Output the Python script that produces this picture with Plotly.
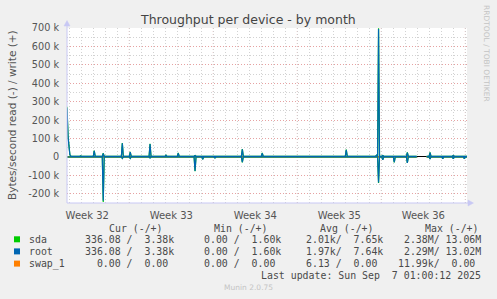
import plotly.graph_objects as go

# ---------------- data (days since start, values in kB/s) ----------------
title_text = "Throughput per device - by month"
y_title = "Bytes/second read (-) / write (+)"

week_labels = ["Week 32", "Week 33", "Week 34", "Week 35", "Week 36"]
week_label_days = [1.5, 8.5, 15.5, 22.5, 29.5]
week_bound_days = [5, 12, 19, 26, 33]

y_tick_vals = [-200000, -100000, 0, 100000, 200000, 300000, 400000, 500000, 600000, 700000]
y_tick_text = ["-200 k", "-100 k", "0", "100 k", "200 k", "300 k", "400 k", "500 k", "600 k", "700 k"]

write_days = [-0.19, -0.10, 0.05, 0.15, 0.87, 0.95, 1.03, 2.00, 2.08, 2.16,
              2.75, 2.83, 2.91, 3.47, 3.55, 3.63, 4.34, 4.42, 4.50, 5.00, 5.08, 5.16,
              6.65, 6.73, 6.81, 7.98, 8.06, 8.14, 8.59, 8.67, 8.75, 9.00, 9.08, 9.16,
              10.40, 10.48, 10.56, 11.04, 11.12, 11.20, 12.06, 12.14, 12.22,
              14.00, 14.08, 14.16, 14.34, 14.42, 14.50, 16.00, 16.08, 16.16,
              16.98, 17.06, 17.14, 20.04, 20.12, 20.20, 23.00, 23.08, 23.16,
              25.52, 25.60, 25.69, 25.77, 25.85, 26.04, 26.12, 26.20, 28.09, 28.17, 28.25,
              28.95, 29.00, 29.78, 29.98, 30.06, 30.14, 31.92, 32.00, 32.08, 33.14]
sda_write_k = [272, 110, 12, 3.4, 3.4, 6, 3.4, 3.4, 34, 3.4,
               3.4, 20, 3.4, 3.4, 6, 3.4, 3.4, 76, 3.4, 3.4, 27, 3.4,
               3.4, 72, 3.4, 3.4, 10, 3.4, 3.4, 6, 3.4, 3.4, 22, 3.4,
               3.4, 8, 3.4, 3.4, 6, 3.4, 3.4, 6, 3.4,
               3.4, 6, 3.4, 3.4, 43, 3.4, 3.4, 22, 3.4,
               3.4, 6, 3.4, 3.4, 6, 3.4, 3.4, 40, 3.4,
               3.4, 10, 3.4, 698, 3.4, 3.4, 8, 3.4, 3.4, 25, 3.4,
               3.4, None, 3.4, 3.4, 25, 3.4, 3.4, 8, 3.4, 3.4]
root_write_k = [266, 106, 12, 3.4, 3.4, 6, 3.4, 3.4, 33, 3.4,
                3.4, 19, 3.4, 3.4, 6, 3.4, 3.4, 74, 3.4, 3.4, 26, 3.4,
                3.4, 70, 3.4, 3.4, 10, 3.4, 3.4, 6, 3.4, 3.4, 21, 3.4,
                3.4, 8, 3.4, 3.4, 6, 3.4, 3.4, 6, 3.4,
                3.4, 6, 3.4, 3.4, 42, 3.4, 3.4, 21, 3.4,
                3.4, 6, 3.4, 3.4, 6, 3.4, 3.4, 39, 3.4,
                3.4, 10, 3.4, 695, 3.4, 3.4, 8, 3.4, 3.4, 24, 3.4,
                3.4, None, 3.4, 3.4, 24, 3.4, 3.4, 8, 3.4, 3.4]

read_days = [-0.19, 2.75, 2.83, 2.91, 4.34, 4.42, 4.50, 5.00, 5.08, 5.16,
             6.65, 6.73, 6.81, 10.40, 10.48, 10.56, 11.04, 11.12, 11.20,
             12.06, 12.14, 12.22, 14.34, 14.42, 14.50, 25.69, 25.77, 25.85,
             26.04, 26.12, 26.20, 27.00, 27.08, 27.16, 28.09, 28.17, 28.25,
             28.95, 29.00, 29.78, 29.98, 30.06, 30.14, 31.04, 31.12, 31.20,
             31.92, 32.00, 32.08, 32.84, 32.92, 33.00, 33.14]
sda_read_k = [0.34, 0.34, 245, 0.34, 0.34, 8, 0.34, 0.34, 8, 0.34,
              0.34, 5, 0.34, 0.34, 78, 0.34, 0.34, 12, 0.34,
              0.34, 5, 0.34, 0.34, 29, 0.34, 0.34, 141, 0.34,
              0.34, 15, 0.34, 0.34, 29, 0.34, 0.34, 33, 0.34,
              0.34, None, 0.34, 0.34, 11, 0.34, 0.34, 10, 0.34,
              0.34, 10, 0.34, 0.34, 10, 0.34, 0.34]
root_read_k = [0.34, 0.34, 238, 0.34, 0.34, 8, 0.34, 0.34, 8, 0.34,
               0.34, 5, 0.34, 0.34, 76, 0.34, 0.34, 12, 0.34,
               0.34, 5, 0.34, 0.34, 28, 0.34, 0.34, 138, 0.34,
               0.34, 15, 0.34, 0.34, 28, 0.34, 0.34, 32, 0.34,
               0.34, None, 0.34, 0.34, 11, 0.34, 0.34, 10, 0.34,
               0.34, 10, 0.34, 0.34, 10, 0.34, 0.34]

swap_days = [-0.19, 28.95, 29.00, 29.78, 33.14]
swap_write_k = [0, 0, None, 0, 0]
swap_read_k = [0, 0, None, 0, 0]

legend_names = ["sda", "root", "swap_1"]
legend_colors = ["#00cc00", "#0066b3", "#ff8000"]
legend_cur = ["336.08 /  3.38k", "336.08 /  3.38k", "  0.00 /  0.00"]
legend_min = ["0.00 /  1.60k", "0.00 /  1.60k", "0.00 /  0.00"]
legend_avg = ["2.01k/  7.65k", "1.97k/  7.64k", "6.13 /  0.00"]
legend_max = [" 2.38M/ 13.06M", " 2.29M/ 13.02M", "11.99k/  0.00"]
legend_headers = ["Cur (-/+)", "Min (-/+)", "Avg (-/+)", "Max (-/+)"]
last_update = "Last update: Sun Sep  7 01:00:12 2025"

assert len(write_days) == len(sda_write_k) == len(root_write_k)
assert len(read_days) == len(sda_read_k) == len(root_read_k)

# ---------------- geometry ----------------
W, H = 497, 299
PL, PR, PT, PB = 67, 467, 28, 203
X_RANGE = [-0.19, 33.14]
Y_RANGE = [-250000, 700000]


def px(x):
    return (x - PL) / (PR - PL)


def py(y):
    return (PB - y) / (PB - PT)


def scale(vals, sign):
    return [None if v is None else sign * v * 1000 for v in vals]


fig = go.Figure()
series = [
    (swap_days, swap_write_k, swap_read_k, swap_days, legend_colors[2]),
    (write_days, sda_write_k, sda_read_k, read_days, legend_colors[0]),
    (write_days, root_write_k, root_read_k, read_days, legend_colors[1]),
]
for wd, wv, rv, rd, col in series:
    fig.add_trace(go.Scatter(x=wd, y=scale(wv, 1), mode="lines", line=dict(color=col, width=1.2),
                             connectgaps=False, showlegend=False, hoverinfo="skip"))
    fig.add_trace(go.Scatter(x=rd, y=scale(rv, -1), mode="lines", line=dict(color=col, width=1.2),
                             connectgaps=False, showlegend=False, hoverinfo="skip"))

GREY_GRID = "rgba(205,205,205,0.9)"
RED_GRID = "rgba(235,150,150,0.8)"
TXT = "#555555"
FONT = "DejaVu Sans"
MONO = "DejaVu Sans Mono"

fig.update_layout(
    width=W, height=H,
    margin=dict(l=PL, r=W - PR, t=PT, b=H - PB, pad=0),
    paper_bgcolor="#f0f0f0", plot_bgcolor="#ffffff",
    showlegend=False,
    xaxis=dict(range=X_RANGE, tickmode="array", tickvals=week_label_days, ticktext=week_labels,
               showgrid=False, zeroline=False, showline=False,
               ticks="outside", ticklen=3, tickcolor="rgba(0,0,0,0)",
               tickfont=dict(family=FONT, size=10, color=TXT),
               minor=dict(dtick=1, tick0=0, showgrid=True, gridcolor=GREY_GRID,
                          griddash="1px,2px", gridwidth=1)),
    yaxis=dict(range=Y_RANGE, tickmode="array", tickvals=y_tick_vals, ticktext=y_tick_text,
               showgrid=True, gridcolor=RED_GRID, griddash="1px,2px", gridwidth=1,
               zeroline=True, zerolinecolor="#000000", zerolinewidth=1, showline=False,
               ticks="outside", ticklen=5, tickcolor="rgba(0,0,0,0)",
               tickfont=dict(family=FONT, size=9.7, color=TXT),
               minor=dict(dtick=50000, tick0=0, showgrid=True, gridcolor=GREY_GRID,
                          griddash="1px,2px", gridwidth=1)),
)

shapes = []
for d in week_bound_days:
    shapes.append(dict(type="line", xref="x", yref="paper", x0=d, x1=d, y0=0, y1=1,
                       line=dict(color=RED_GRID, width=1, dash="1px,2px"), layer="between"))
AX = "#c8c8f4"
shapes += [
    dict(type="line", xref="paper", yref="paper", x0=0, x1=0, y0=0, y1=py(25),
         line=dict(color=AX, width=1), layer="above"),
    dict(type="path", xref="paper", yref="paper",
         path=f"M {px(64)} {py(26)} L {px(70)} {py(26)} L {px(67)} {py(20.5)} Z",
         fillcolor=AX, line=dict(color=AX, width=0.5), layer="above"),
    dict(type="line", xref="paper", yref="paper", x0=0, x1=px(469), y0=0, y1=0,
         line=dict(color=AX, width=1), layer="above"),
    dict(type="path", xref="paper", yref="paper",
         path=f"M {px(468)} {py(200)} L {px(468)} {py(206)} L {px(473.5)} {py(203)} Z",
         fillcolor=AX, line=dict(color=AX, width=0.5), layer="above"),
]
# legend colour squares
row_y = [239.3, 251.4, 263.6]
for ry, col in zip(row_y, legend_colors):
    shapes.append(dict(type="rect", xref="paper", yref="paper",
                       x0=px(14), x1=px(20), y0=py(ry + 3), y1=py(ry - 3),
                       fillcolor=col, line=dict(width=0)))
fig.update_layout(shapes=shapes)

ann = []
ann.append(dict(text=title_text, xref="paper", yref="paper", x=px(248), y=py(19.5),
                xanchor="center", yanchor="middle", showarrow=False,
                font=dict(family=FONT, size=12.5, color="#444444")))
ann.append(dict(text=y_title, xref="paper", yref="paper", x=px(12), y=py(115),
                xanchor="center", yanchor="middle", showarrow=False, textangle=-90,
                font=dict(family=FONT, size=10.5, color=TXT)))
ann.append(dict(text="RRDTOOL / TOBI OETIKER", xref="paper", yref="paper", x=px(487), y=py(53),
                xanchor="center", yanchor="middle", showarrow=False, textangle=90,
                font=dict(family=FONT, size=7.5, color="#c4c4c4")))
ann.append(dict(text="Munin 2.0.75", xref="paper", yref="paper", x=px(248), y=py(287.7),
                xanchor="center", yanchor="middle", showarrow=False,
                font=dict(family=FONT, size=7.5, color="#c4c4c4")))

MONO_SIZE = 9.9


def mono(text, x, y, anchor="left"):
    return dict(text=text.replace(" ", "&nbsp;"), xref="paper", yref="paper", x=px(x), y=py(y),
                xanchor=anchor, yanchor="middle", showarrow=False,
                font=dict(family=MONO, size=MONO_SIZE, color="#4a4a4a"))


for hx, h in zip([107.3, 212.3, 317.7, 422.7], legend_headers):
    ann.append(mono(h, hx, 228.3))
for i in range(3):
    ry = row_y[i]
    ann.append(mono(legend_names[i], 26.7, ry))
    ann.append(mono(legend_cur[i], 176.3, ry, "right") if i < 2 else mono(legend_cur[i], 170.3, ry, "right"))
    ann.append(mono(legend_min[i], 201.7, ry))
    ann.append(mono(legend_avg[i], 304, ry))
    ann.append(mono(legend_max[i], 483.3, ry, "right") if i < 2 else mono(legend_max[i], 477.3, ry, "right"))
ann.append(mono(last_update, 482.7, 275.7, "right"))
fig.update_layout(annotations=ann)

fig.write_html("out.html")
